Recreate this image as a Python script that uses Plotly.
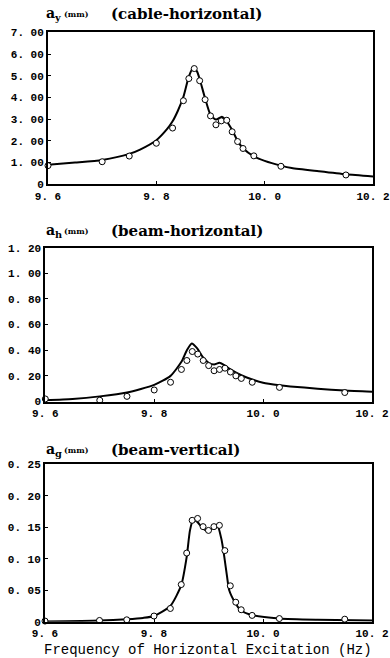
import plotly.graph_objects as go

# ---------------- data ----------------
freq_pts = [9.60, 9.70, 9.75, 9.80, 9.83, 9.85, 9.86, 9.87, 9.88, 9.89,
            9.90, 9.91, 9.92, 9.93, 9.94, 9.95, 9.96, 9.98, 10.03, 10.15]

ay_pts = [0.86, 1.04, 1.30, 1.89, 2.59, 3.85, 4.87, 5.33, 4.77, 3.90,
          3.15, 2.74, 2.92, 2.95, 2.42, 1.97, 1.65, 1.31, 0.83, 0.43]
ah_pts = [0.02, 0.01, 0.04, 0.09, 0.15, 0.25, 0.32, 0.39, 0.37, 0.32,
          0.28, 0.24, 0.25, 0.26, 0.23, 0.20, 0.18, 0.15, 0.11, 0.07]
ag_pts = [0.001, 0.002, 0.003, 0.009, 0.021, 0.059, 0.109, 0.161, 0.164, 0.151,
          0.145, 0.151, 0.153, 0.113, 0.057, 0.031, 0.019, 0.010, 0.005, 0.004]

ay_curve_f = [9.60, 9.65, 9.70, 9.75, 9.77, 9.80, 9.82, 9.83, 9.84, 9.85, 9.86,
              9.868, 9.875, 9.88, 9.89, 9.90, 9.91, 9.921, 9.928, 9.94, 9.95,
              9.96, 9.98, 10.00, 10.03, 10.05, 10.10, 10.15, 10.20]
ay_curve_v = [0.90, 1.00, 1.12, 1.40, 1.60, 2.03, 2.55, 2.90, 3.40, 4.03, 4.96,
              5.37, 5.20, 4.85, 3.96, 3.20, 2.98, 3.11, 2.97, 2.50, 2.00,
              1.66, 1.29, 1.08, 0.86, 0.75, 0.60, 0.46, 0.36]

ah_curve_f = [9.60, 9.65, 9.70, 9.75, 9.80, 9.83, 9.85, 9.86, 9.869, 9.879,
              9.889, 9.90, 9.91, 9.92, 9.928, 9.94, 9.96, 9.98, 10.00, 10.03,
              10.05, 10.10, 10.15, 10.20]
ah_curve_v = [0.01, 0.02, 0.04, 0.07, 0.13, 0.20, 0.31, 0.40, 0.453, 0.414,
              0.348, 0.302, 0.289, 0.302, 0.285, 0.25, 0.205, 0.172, 0.146, 0.127,
              0.118, 0.10, 0.085, 0.076]

ag_curve_f = [9.60, 9.70, 9.75, 9.78, 9.80, 9.83, 9.85, 9.86, 9.866, 9.872,
              9.879, 9.889, 9.90, 9.909, 9.916, 9.924, 9.929, 9.934, 9.938, 9.949,
              9.958, 9.977, 10.03, 10.10, 10.20]
ag_curve_v = [0.0005, 0.002, 0.004, 0.006, 0.009, 0.025, 0.058, 0.103, 0.145, 0.162,
              0.159, 0.149, 0.143, 0.150, 0.154, 0.130, 0.103, 0.072, 0.050, 0.030,
              0.019, 0.011, 0.005, 0.003, 0.002]

x_tickvals = [9.6, 9.8, 10.0, 10.2]
x_ticktext = ["9. 6", "9. 8", "10. 0", "10. 2"]

ay_tickvals = [0, 1, 2, 3, 4, 5, 6, 7]
ay_ticktext = ["0", "1. 00", "2. 00", "3. 00", "4. 00", "5. 00", "6. 00", "7. 00"]
ah_tickvals = [0, 0.2, 0.4, 0.6, 0.8, 1.0, 1.2]
ah_ticktext = ["0", "0. 20", "0. 40", "0. 60", "0. 80", "1. 00", "1. 20"]
ag_tickvals = [0, 0.05, 0.10, 0.15, 0.20, 0.25]
ag_ticktext = ["0", "0. 05", "0. 10", "0. 15", "0. 20", "0. 25"]

symbols = ["a<sub>y</sub>", "a<sub>h</sub>", "a<sub>g</sub>"]
unit_text = "(mm)"
names = ["(cable-horizontal)", "(beam-horizontal)", "(beam-vertical)"]
x_title = "Frequency of Horizontal Excitation (Hz)"

# ---------------- layout geometry ----------------
W, H = 390, 658
panels = [
    dict(x0=48, x1=373, y0=32.3, y1=184.3, rng=[0, 7],
         tv=ay_tickvals, tt=ay_ticktext, cf=ay_curve_f, cv=ay_curve_v, pv=ay_pts, ty=14),
    dict(x0=45.3, x1=372, y0=247.7, y1=401.5, rng=[0, 1.2],
         tv=ah_tickvals, tt=ah_ticktext, cf=ah_curve_f, cv=ah_curve_v, pv=ah_pts, ty=231),
    dict(x0=45, x1=372, y0=464.3, y1=621.7, rng=[0, 0.25],
         tv=ag_tickvals, tt=ag_ticktext, cf=ag_curve_f, cv=ag_curve_v, pv=ag_pts, ty=450),
]

mono = "Liberation Mono"
serif = "DejaVu Serif"
fig = go.Figure()
annotations = []
for i, p in enumerate(panels):
    n = "" if i == 0 else str(i + 1)
    xa, ya = "x" + n, "y" + n
    fig.add_trace(go.Scatter(
        x=p["cf"], y=p["cv"], xaxis=xa, yaxis=ya, mode="lines",
        line=dict(color="black", width=2, shape="spline", smoothing=0.6),
        showlegend=False, hoverinfo="skip", cliponaxis=False))
    fig.add_trace(go.Scatter(
        x=freq_pts, y=p["pv"], xaxis=xa, yaxis=ya, mode="markers",
        marker=dict(symbol="circle", size=6, color="white",
                    line=dict(color="black", width=1)),
        showlegend=False, cliponaxis=False))
    axcommon = dict(showline=True, mirror=True, linecolor="black", linewidth=2,
                    showgrid=False, zeroline=False, ticks="inside", ticklen=3,
                    tickwidth=1, tickcolor="black", automargin=False,
                    tickfont=dict(family=mono, size=11, color="black", weight="bold"))
    fig.update_layout({
        ("xaxis" + n): dict(domain=[p["x0"] / W, p["x1"] / W], range=[9.6, 10.2],
                            anchor=ya, tickvals=x_tickvals, ticktext=x_ticktext,
                            **axcommon),
        ("yaxis" + n): dict(domain=[1 - p["y1"] / H, 1 - p["y0"] / H], range=p["rng"],
                            anchor=xa, tickvals=p["tv"], ticktext=p["tt"],
                            **axcommon),
    })
    yy = 1 - p["ty"] / H
    annotations.append(dict(
        text=symbols[i], xref="paper", yref="paper", x=44 / W, y=yy,
        xanchor="left", yanchor="middle", showarrow=False,
        font=dict(family=serif, size=14, color="black", weight="bold")))
    annotations.append(dict(
        text=unit_text, xref="paper", yref="paper", x=62 / W, y=yy,
        xanchor="left", yanchor="middle", showarrow=False,
        font=dict(family=serif, size=8, color="black", weight="bold")))
    annotations.append(dict(
        text=names[i], xref="paper", yref="paper", x=109 / W, y=yy,
        xanchor="left", yanchor="middle", showarrow=False,
        font=dict(family=serif, size=15, color="black", weight="bold")))

annotations.append(dict(
    text=x_title, xref="paper", yref="paper",
    x=208 / W, y=1 - 650 / H, xanchor="center", yanchor="middle", showarrow=False,
    font=dict(family=mono, size=14, color="black")))

fig.update_layout(template="none", width=W, height=H,
                  margin=dict(l=0, r=0, t=0, b=0, autoexpand=False),
                  paper_bgcolor="white", plot_bgcolor="white",
                  annotations=annotations)

fig.write_html("out.html")
